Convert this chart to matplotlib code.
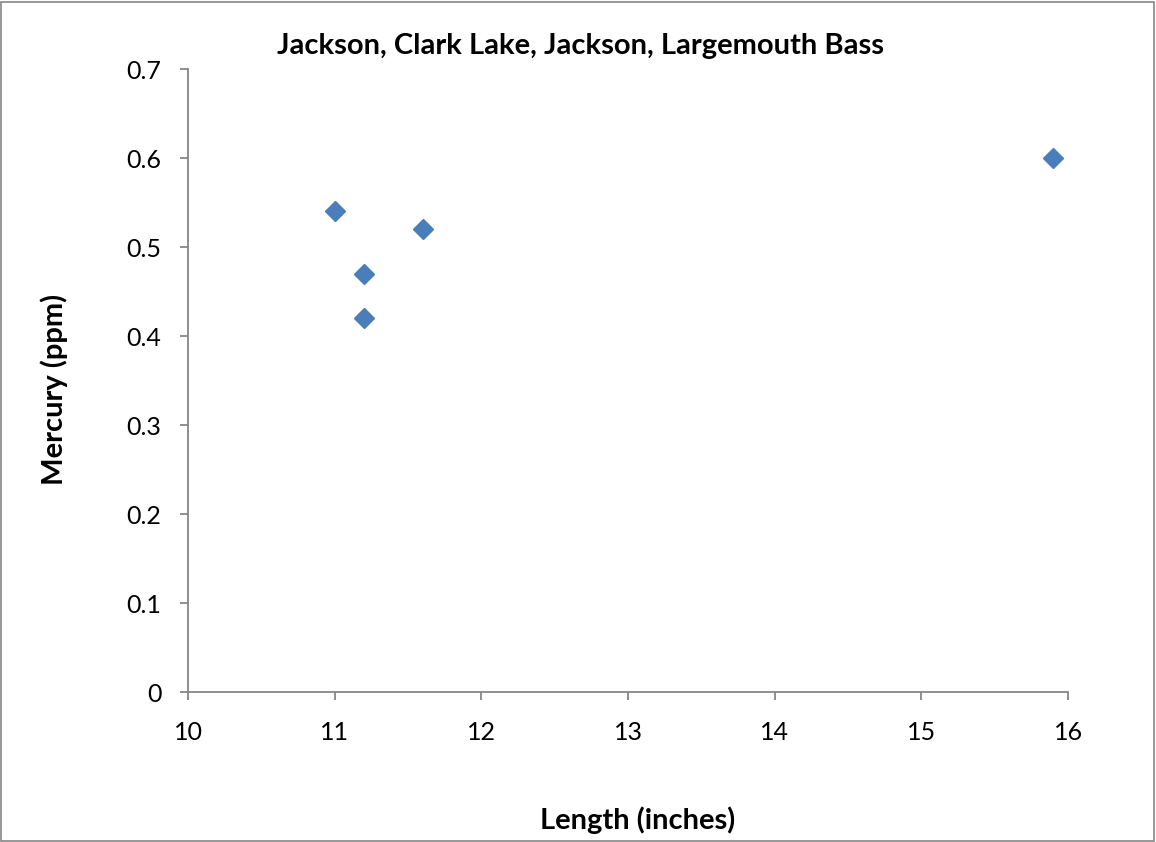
import matplotlib
matplotlib.use('Agg')
from matplotlib import pyplot as plt
from matplotlib.patches import Rectangle

plt.rcParams['font.family'] = ['Lato', 'DejaVu Sans']

length = [11.0, 11.2, 11.2, 11.6, 15.9]
mercury = [0.54, 0.47, 0.42, 0.52, 0.60]
x_ticks = [10, 11, 12, 13, 14, 15, 16]
y_ticks = [0, 0.1, 0.2, 0.3, 0.4, 0.5, 0.6, 0.7]

fig = plt.figure(figsize=(11.56, 8.42), dpi=100)
ax = fig.add_axes([0.1626, 0.1781, 0.7613, 0.7399])

ax.plot(length, mercury, linestyle='none', marker='D', markersize=10,
        color='#4A7EBB', markeredgecolor='#4A7EBB')

ax.set_xlim(10, 16)
ax.set_ylim(0, 0.7)
ax.set_xticks(x_ticks)
ax.set_xticklabels([str(t) for t in x_ticks])
ax.set_yticks(y_ticks)
ax.set_yticklabels(['0'] + ['%.1f' % t for t in y_ticks[1:]])

for s in ['top', 'right']:
    ax.spines[s].set_visible(False)
for s in ['left', 'bottom']:
    ax.spines[s].set_color('#868686')
    ax.spines[s].set_linewidth(1.3)
ax.tick_params(direction='out', length=6, width=1.3, color='#868686',
               labelsize=18, labelcolor='black')
ax.tick_params(axis='x', pad=15)
ax.tick_params(axis='y', pad=13)

fig.text(0.502, 0.945, 'Jackson, Clark Lake, Jackson, Largemouth Bass',
         ha='center', va='center', fontsize=21, fontweight='bold')
fig.text(0.552, 0.026, 'Length (inches)', ha='center', va='center',
         fontsize=21, fontweight='bold')
fig.text(0.047, 0.537, 'Mercury (ppm)', ha='center', va='center',
         rotation=90, fontsize=21, fontweight='bold')

fig.patches.append(Rectangle((0.001, 0.001), 0.997, 0.997, transform=fig.transFigure,
                             fill=False, edgecolor='#868686', linewidth=1.2))

fig.savefig('out.png', dpi=100)
